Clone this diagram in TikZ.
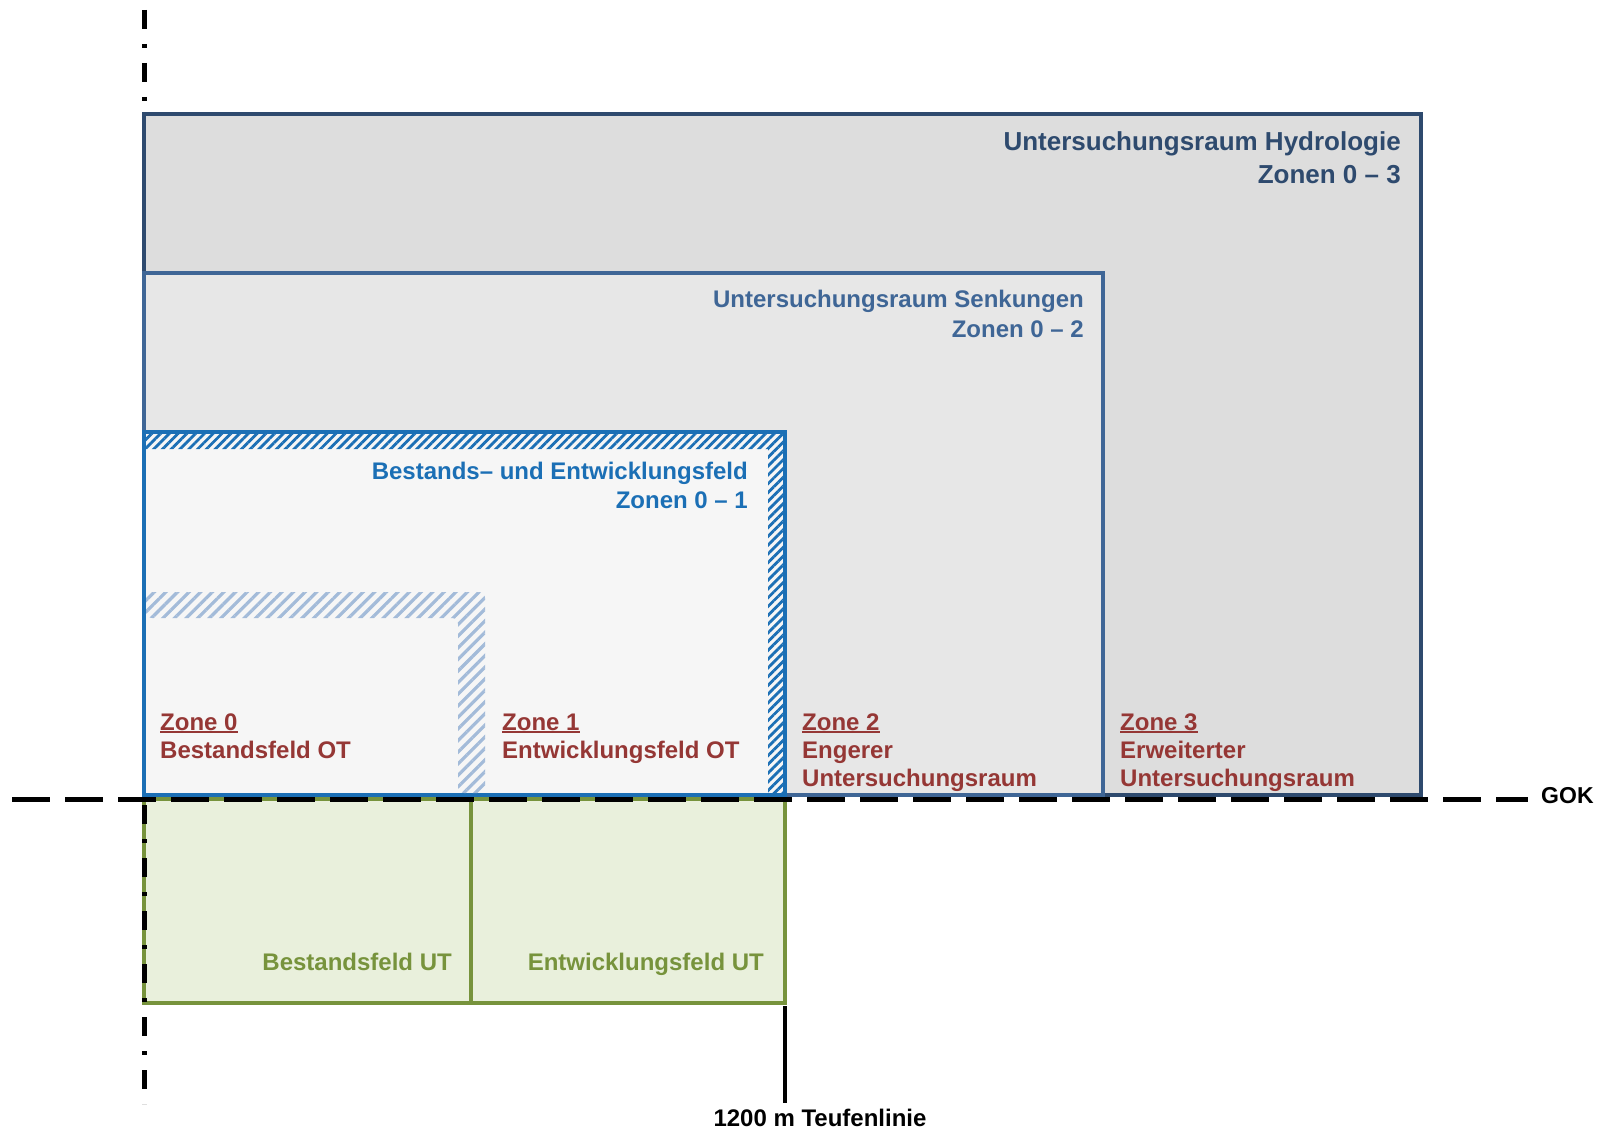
\documentclass[tikz,border=0pt]{standalone}
\usepackage{fontspec}
\setmainfont{Liberation Sans}
\usetikzlibrary{patterns.meta}
\definecolor{hydro}{HTML}{2E4A6E}
\definecolor{hydrofill}{HTML}{DDDDDD}
\definecolor{senk}{HTML}{3F6696}
\definecolor{senkfill}{HTML}{E7E7E7}
\definecolor{best}{HTML}{1B6FB5}
\definecolor{bestfill}{HTML}{F6F6F6}
\definecolor{hatchlight}{HTML}{A3BBD9}
\definecolor{zonered}{HTML}{953735}
\definecolor{ut}{HTML}{77933C}
\definecolor{utfill}{HTML}{E9F0DC}
\newlength\zonew
\newcommand\zoneline[1]{\settowidth\zonew{#1}\rlap{\rule[-3pt]{\zonew}{2pt}}#1}
\begin{document}
\begin{tikzpicture}[x=1pt,y=-1pt,
  zone/.style={anchor=base west,align=left,inner sep=0pt,text=zonered,font=\fontsize{24}{28}\selectfont\bfseries},
  title/.style={anchor=base east,align=right,inner sep=0pt},
  utbox/.style={draw=ut,fill=utfill,line width=4pt}]
\useasboundingbox (0,0) rectangle (1600,1129);
\draw[utbox] (144,799) rectangle (471,1003);
\draw[utbox] (471,799) rectangle (785,1003);
\node[font=\fontsize{23}{28}\selectfont\bfseries,anchor=base west,inner sep=0pt] (gok) at (1541,803) {GOK};
\coordinate (gokL) at (12,799);
\coordinate (gokR) at (1528,799);
\draw[line width=5pt,dash pattern=on 38pt off 15pt] (gokL) -- (gokR);
\coordinate (achseO) at (144,10);
\coordinate (achseU) at (144,1104);
\draw[line width=5pt,dash pattern=on 19pt off 15pt on 4pt off 15pt] (achseO) -- (achseU);
\draw[draw=hydro,fill=hydrofill,line width=4pt] (144,114) rectangle (1421,795);
\draw[draw=senk,fill=senkfill,line width=4pt] (144,273) rectangle (1103,795);
\draw[draw=best,fill=bestfill,line width=4pt] (144,432) rectangle (785,795);
\fill[pattern={Lines[angle=45,distance=6.2pt,line width=2.8pt]},pattern color=best]
  (146,434) -- (783,434) -- (783,793) -- (768,793) -- (768,449) -- (146,449) -- cycle;
\fill[pattern={Lines[angle=45,distance=8.2pt,line width=3.2pt]},pattern color=hatchlight,rounded corners=6pt]
  (146,592) -- (485,592) -- (485,793) -- (458,793) -- (458,618) -- (146,618) -- cycle;
\node[font=\fontsize{24}{28}\selectfont\bfseries,anchor=base,inner sep=0pt] (teufe) at (820,1126) {1200 m Teufenlinie};
\coordinate (teufeO) at (785,1006);
\draw[line width=4pt] (teufeO) -- (785,1103);
\node[title,text=hydro,font=\fontsize{26}{33}\selectfont\bfseries] (hydrologie) at (1401,183) {Untersuchungsraum Hydrologie\\Zonen 0 – 3};
\node[title,text=senk,font=\fontsize{24}{29.5}\selectfont\bfseries] (senkungen) at (1084,337) {Untersuchungsraum Senkungen\\Zonen 0 – 2};
\node[title,text=best,font=\fontsize{24}{29}\selectfont\bfseries] (bestand) at (748,508) {Bestands– und Entwicklungsfeld\\Zonen 0 – 1};
\foreach \x/\y/\n/\t in {160/758/0/{Bestandsfeld OT},502/758/1/{Entwicklungsfeld OT},802/786/2/{Engerer\\Untersuchungsraum},1120/786/3/{Erweiterter\\Untersuchungsraum}}
  \node[zone] (zone\n) at (\x,\y) {\zoneline{Zone \n}\\\t};
\node[title,text=ut,font=\fontsize{24}{28}\selectfont\bfseries] (bfut) at (452,970) {Bestandsfeld UT};
\node[title,text=ut,font=\fontsize{24}{28}\selectfont\bfseries] (efut) at (764,970) {Entwicklungsfeld UT};
\end{tikzpicture}
\end{document}
